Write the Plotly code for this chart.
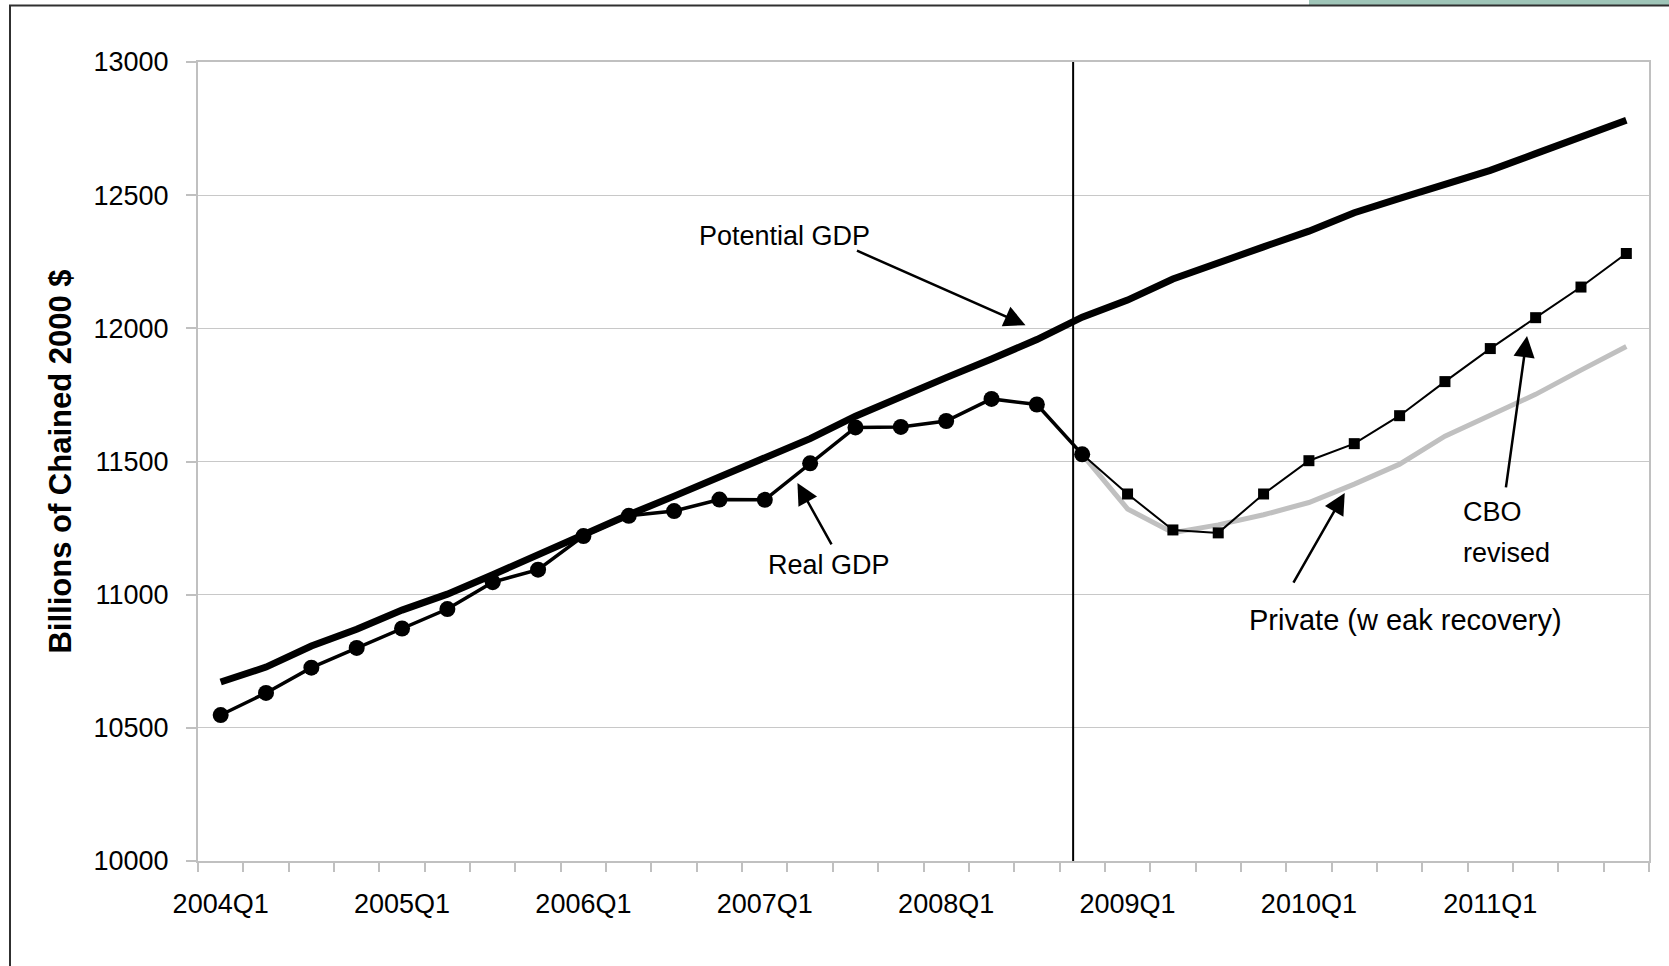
import plotly.graph_objects as go

quarters = [
    "2004Q1", "2004Q2", "2004Q3", "2004Q4",
    "2005Q1", "2005Q2", "2005Q3", "2005Q4",
    "2006Q1", "2006Q2", "2006Q3", "2006Q4",
    "2007Q1", "2007Q2", "2007Q3", "2007Q4",
    "2008Q1", "2008Q2", "2008Q3", "2008Q4",
    "2009Q1", "2009Q2", "2009Q3", "2009Q4",
    "2010Q1", "2010Q2", "2010Q3", "2010Q4",
    "2011Q1", "2011Q2", "2011Q3", "2011Q4",
]

potential_gdp = [10672, 10728, 10807, 10870, 10942, 11002, 11075, 11152,
                 11228, 11300, 11370, 11444, 11515, 11586, 11670, 11745,
                 11815, 11885, 11958, 12042, 12106, 12185, 12248, 12306,
                 12365, 12434, 12488, 12540, 12593, 12656, 12719, 12781]

real_gdp = [10548, 10631, 10726, 10800, 10873, 10946, 11047, 11094,
            11220, 11296, 11314, 11357, 11356, 11493, 11628, 11630,
            11652, 11735, 11714, 11527] + [None] * 12

cbo_revised = [None] * 19 + [11527, 11378, 11243, 11232, 11378, 11503,
                             11567, 11672, 11800, 11924, 12040, 12155, 12281]

private_weak = [None] * 19 + [11527, 11322, 11233, 11262, 11300, 11346,
                              11415, 11490, 11595, 11672, 11752, 11843, 11932]

label_quarters = quarters[::4]
x_idx = list(range(len(quarters)))
label_idx = x_idx[::4]

divider_x = 18.80

FONT = "Liberation Sans, Arial, sans-serif"
GRID = "#c8c8c8"
AXIS = "#c0c0c0"

fig = go.Figure()

fig.add_trace(go.Scatter(x=x_idx, y=potential_gdp, mode="lines",
                         line=dict(color="black", width=7), name="Potential GDP"))
fig.add_trace(go.Scatter(x=x_idx, y=private_weak, mode="lines",
                         line=dict(color="#c0c0c0", width=5), name="Private"))
fig.add_trace(go.Scatter(x=x_idx, y=cbo_revised, mode="lines+markers",
                         line=dict(color="black", width=2),
                         marker=dict(symbol="square", size=11, color="black"),
                         name="CBO revised"))
fig.add_trace(go.Scatter(x=x_idx, y=real_gdp, mode="lines+markers",
                         line=dict(color="black", width=3.5),
                         marker=dict(symbol="circle", size=16, color="black"),
                         name="Real GDP"))

# plot area geometry (px) for the frame shapes
L, R, T, B, W, H = 198, 20, 62, 105, 1669, 966
pw = W - L - R
ph = H - T - B


def px2paper_x(px):
    return (px - L) / pw


def px2paper_y(py):
    return (H - B - py) / ph


fig.update_layout(
    width=W, height=H,
    margin=dict(l=L, r=R, t=T, b=B),
    paper_bgcolor="white", plot_bgcolor="white",
    showlegend=False,
    font=dict(family=FONT, size=27, color="black"),
    xaxis=dict(
        range=[-0.5, len(quarters) - 0.5],
        tickmode="array", tickvals=label_idx, ticktext=label_quarters,
        ticks="", showgrid=False, zeroline=False, automargin=False,
        showline=True, linecolor=AXIS, linewidth=2, mirror=True,
        tickfont=dict(size=27, family=FONT),
        ticklabelstandoff=18,
        minor=dict(tick0=-0.5, dtick=1, ticks="outside", ticklen=9,
                   tickcolor=AXIS, tickwidth=2, showgrid=False),
    ),
    yaxis=dict(
        range=[10000, 13000], dtick=500, tick0=10000, tickformat="d",
        showgrid=True, gridcolor=GRID, gridwidth=1, zeroline=False,
        automargin=False,
        showline=True, linecolor=AXIS, linewidth=2, mirror=True,
        ticks="outside", ticklen=10, tickcolor=AXIS, tickwidth=2,
        tickfont=dict(size=27, family=FONT),
        ticklabelstandoff=12,
        title=dict(text="<b>Billions of Chained 2000 $</b>",
                   font=dict(size=31, family=FONT), standoff=13),
    ),
)

# divider line
fig.add_shape(type="line", xref="x", yref="y", x0=divider_x, x1=divider_x,
              y0=10000, y1=13000, line=dict(color="black", width=2))

# outer frame and green bar
fig.add_shape(type="rect", xref="paper", yref="paper",
              x0=px2paper_x(1309), x1=px2paper_x(1700),
              y0=px2paper_y(5), y1=px2paper_y(-2),
              fillcolor="#9fc5b8", line=dict(width=0), layer="above")
fig.add_shape(type="rect", xref="paper", yref="paper",
              x0=px2paper_x(10), x1=px2paper_x(1720),
              y0=px2paper_y(1000), y1=px2paper_y(5.5),
              fillcolor="rgba(0,0,0,0)", line=dict(color="#303030", width=2))

arrow_style = dict(showarrow=True, arrowhead=2, arrowsize=1.7, arrowwidth=2.5,
                   arrowcolor="black", axref="x", ayref="y", xref="x", yref="y",
                   text="", standoff=0)

# arrows: (head x, head y, tail x, tail y)
fig.add_annotation(x=17.75, y=12012, ax=14.0, ay=12294, **arrow_style)
fig.add_annotation(x=12.72, y=11419, ax=13.49, ay=11183, **arrow_style)
fig.add_annotation(x=24.79, y=11382, ax=23.64, ay=11040, **arrow_style)
fig.add_annotation(x=28.81, y=11971, ax=28.34, ay=11397, **arrow_style)

text_style = dict(showarrow=False, xref="x", yref="y",
                  font=dict(size=27, family=FONT, color="black"))
fig.add_annotation(x=12.43, y=12347, text="Potential GDP", **text_style)
fig.add_annotation(x=13.42, y=11111, text="Real GDP", **text_style)
fig.add_annotation(x=26.14, y=10905, text="Private (w eak recovery)",
                   showarrow=False, xref="x", yref="y",
                   font=dict(size=29, family=FONT, color="black"))
fig.add_annotation(x=27.35, y=11310, text="CBO", xanchor="left", **text_style)
fig.add_annotation(x=27.35, y=11156, text="revised", xanchor="left", **text_style)

fig.write_html("out.html",
               config={"displayModeBar": False},
               post_script="document.body.style.margin='0';document.body.style.overflow='hidden';")
